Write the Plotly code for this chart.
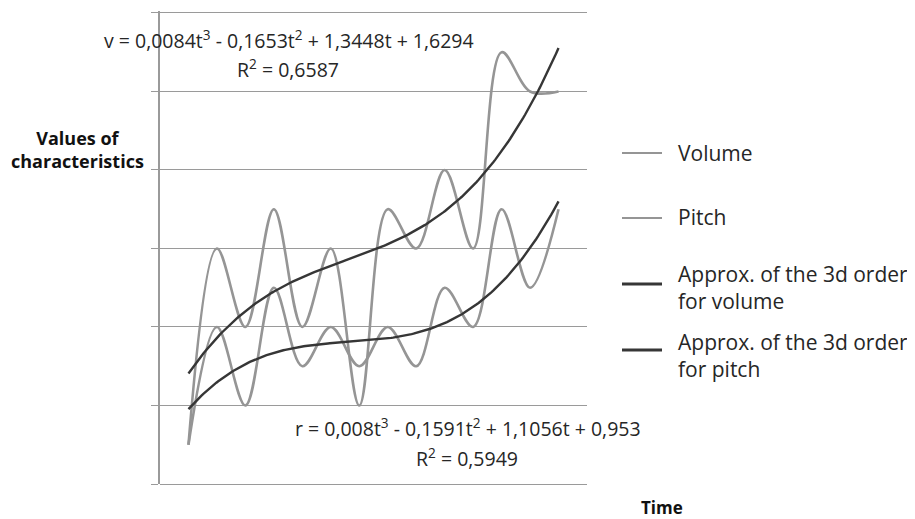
import numpy as np
import plotly.graph_objects as go

# ---- data ----
time = list(range(1, 15))
volume = [1, 6, 4, 7, 4, 6, 2, 7, 6, 8, 6, 11, 10, 10]
pitch = [1, 4, 2, 5, 3, 4, 3, 4, 3, 5, 4, 7, 5, 7]
# printed 3rd-order trendline coefficients (t^3, t^2, t, 1)
vol_coef = [0.0084, -0.1653, 1.3448, 1.6294]
pitch_coef = [0.008, -0.1591, 1.1056, 0.953]
vol_eq = "v = 0,0084t<sup>3</sup> - 0,1653t<sup>2</sup> + 1,3448t + 1,6294"
vol_r2 = "R<sup>2</sup> = 0,6587"
pitch_eq = "r = 0,008t<sup>3</sup> - 0,1591t<sup>2</sup> + 1,1056t + 0,953"
pitch_r2 = "R<sup>2</sup> = 0,5949"
legend_names = ["Volume", "Pitch",
                "Approx. of the 3d order<br>for volume",
                "Approx. of the 3d order<br>for pitch"]
y_title = "<b>Values of<br>characteristics</b>"
x_title = "<b>Time</b>"

# page body has an 8px default margin -> compensate
OFF = 8
WIN_W, WIN_H = 915, 519
W, H = WIN_W - OFF, WIN_H - OFF
L, R, T, B = 160, 587, 11, 484   # plot-area edges in window pixels
Y_TOP = 12.05

def px(x):
    return (x - L) / (R - L)

def py(y):
    return (B - y) / (B - T)

t_fine = np.linspace(time[0], time[-1], 200)
vol_fit = np.polyval(vol_coef, t_fine)
pitch_fit = np.polyval(pitch_coef, t_fine)

GRAY = "#959595"
DARK = "#363636"
GRID = "#9a9a9a"
FONT = "'Open Sans', sans-serif"
TXT = "#262626"

fig = go.Figure()
fig.add_trace(go.Scatter(x=time, y=volume, mode="lines", line=dict(color=GRAY, width=2.6, shape="spline", smoothing=1.0), name="Volume"))
fig.add_trace(go.Scatter(x=time, y=pitch, mode="lines", line=dict(color=GRAY, width=2.6, shape="spline", smoothing=1.0), name="Pitch"))
fig.add_trace(go.Scatter(x=t_fine, y=vol_fit, mode="lines", line=dict(color=DARK, width=2.4), name="fit v"))
fig.add_trace(go.Scatter(x=t_fine, y=pitch_fit, mode="lines", line=dict(color=DARK, width=2.4), name="fit r"))

shapes = []
annotations = []

# custom legend
leg_items = [
    (legend_names[0], GRAY, 2.2, 153, 153),
    (legend_names[1], GRAY, 2.2, 218, 217),
    (legend_names[2], DARK, 3, 284, 287),
    (legend_names[3], DARK, 3, 350, 355),
]
for name, col, w, ly, ty in leg_items:
    shapes.append(dict(type="line", xref="paper", yref="paper", x0=px(622), x1=px(662), y0=py(ly), y1=py(ly), line=dict(color=col, width=w)))
    annotations.append(dict(xref="paper", yref="paper", x=px(676), y=py(ty), text=name, showarrow=False, xanchor="left", yanchor="middle", align="left", font=dict(size=21, color=TXT, family=FONT)))

annotations += [
    dict(xref="paper", yref="paper", x=px(289), y=py(39), text=vol_eq, showarrow=False, xanchor="center", yanchor="middle", font=dict(size=19.5, color=TXT, family=FONT)),
    dict(xref="paper", yref="paper", x=px(288), y=py(68), text=vol_r2, showarrow=False, xanchor="center", yanchor="middle", font=dict(size=19.5, color=TXT, family=FONT)),
    dict(xref="paper", yref="paper", x=px(468), y=py(427), text=pitch_eq, showarrow=False, xanchor="center", yanchor="middle", font=dict(size=19.5, color=TXT, family=FONT)),
    dict(xref="paper", yref="paper", x=px(467), y=py(457), text=pitch_r2, showarrow=False, xanchor="center", yanchor="middle", font=dict(size=19.5, color=TXT, family=FONT)),
    dict(xref="paper", yref="paper", x=px(77), y=py(149), text=y_title, showarrow=False, xanchor="center", yanchor="middle", align="center", font=dict(size=18, color="#111", family=FONT)),
    dict(xref="paper", yref="paper", x=px(639), y=py(507), text=x_title, showarrow=False, xanchor="left", yanchor="middle", font=dict(size=17, color="#111", family=FONT)),
]

fig.update_layout(
    width=W, height=H,
    margin=dict(l=L - OFF, r=WIN_W - R, t=T - OFF, b=WIN_H - B, pad=0),
    paper_bgcolor="white", plot_bgcolor="white",
    showlegend=False,
    shapes=shapes, annotations=annotations,
    xaxis=dict(range=[0, 15], showgrid=False, zeroline=False, showticklabels=False, ticks="", showline=False),
    yaxis=dict(range=[0, Y_TOP], dtick=2, tick0=0, showgrid=True, gridcolor=GRID, gridwidth=1.3,
               zeroline=True, zerolinecolor=GRID, zerolinewidth=1.3,
               showticklabels=False, ticks="outside", ticklen=7, tickcolor=GRID, tickwidth=1.3,
               showline=True, linecolor=GRID, linewidth=1.5),
)

fig.write_html("out.html")
